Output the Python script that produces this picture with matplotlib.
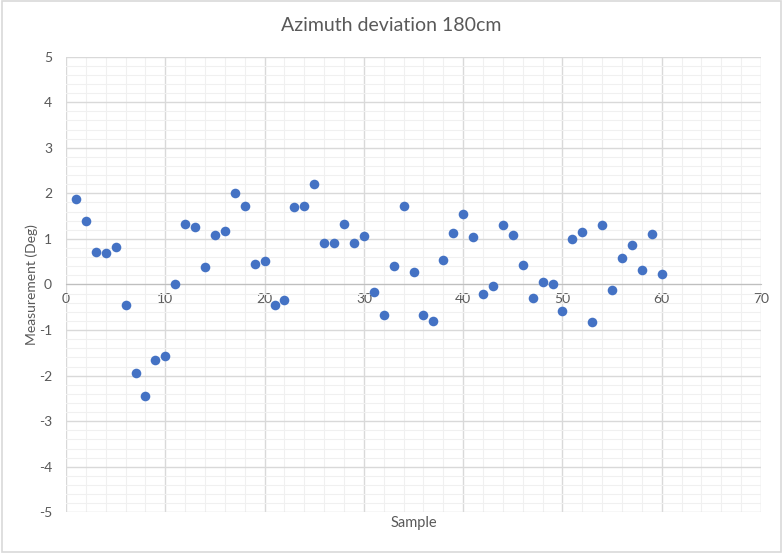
import matplotlib
matplotlib.use("Agg")
import matplotlib.pyplot as plt
from matplotlib.patches import Rectangle

plt.rcParams['font.family'] = ['Lato', 'DejaVu Sans']
plt.rcParams['axes.unicode_minus'] = False

sample = list(range(1, 61))
measurement = [
    1.88, 1.39, 0.72, 0.69, 0.82, -0.44, -1.94, -2.45, -1.66, -1.58,
    0.00, 1.32, 1.27, 0.38, 1.09, 1.17, 2.00, 1.72, 0.45, 0.52,
    -0.45, -0.35, 1.69, 1.72, 2.21, 0.91, 0.90, 1.33, 0.91, 1.06,
    -0.16, -0.68, 0.41, 1.73, 0.27, -0.68, -0.80, 0.53, 1.14, 1.55,
    1.04, -0.21, -0.04, 1.30, 1.08, 0.42, -0.30, 0.06, 0.00, -0.59,
    0.99, 1.15, -0.83, 1.30, -0.11, 0.58, 0.87, 0.31, 1.11, 0.24,
]

text_color = '#595959'

fig = plt.figure(figsize=(7.83, 5.53), dpi=100)
fig.patches.append(Rectangle((0.002, 0.002), 0.996, 0.996, transform=fig.transFigure,
                             fill=False, edgecolor='#d9d9d9', linewidth=1.2))
ax = fig.add_axes([0.0843, 0.0736, 0.8877, 0.8239])

ax.set_xlim(0, 70)
ax.set_ylim(-5, 5)
ax.set_xticks(range(0, 71, 10))
ax.set_xticks(range(0, 71, 2), minor=True)
ax.set_yticks(range(-5, 6))
ax.set_yticks([i / 5 for i in range(-25, 26)], minor=True)
ax.grid(which='major', color='#d9d9d9', linewidth=1.0)
ax.grid(which='minor', color='#f0f0f0', linewidth=0.8)
ax.set_axisbelow(True)

for side in ['top', 'right', 'left']:
    ax.spines[side].set_visible(False)
ax.spines['bottom'].set_position(('data', 0))
ax.spines['bottom'].set_color('#bfbfbf')
ax.tick_params(which='both', length=0, labelsize=10, labelcolor=text_color)
ax.tick_params(axis='x', pad=6)
ax.tick_params(axis='y', pad=10)

ax.scatter(sample, measurement, s=48, color='#4472C4', zorder=3, linewidths=0)

fig.text(0.5, 0.953, 'Azimuth deviation 180cm', ha='center', va='center',
         fontsize=14, color=text_color)
fig.text(0.528, 0.054, 'Sample', ha='center', va='center', fontsize=10.5, color=text_color)
fig.text(0.040, 0.4855, 'Measurement (Deg)', ha='center', va='center', rotation=90,
         fontsize=10, color=text_color)

fig.savefig('out.png', dpi=100)
